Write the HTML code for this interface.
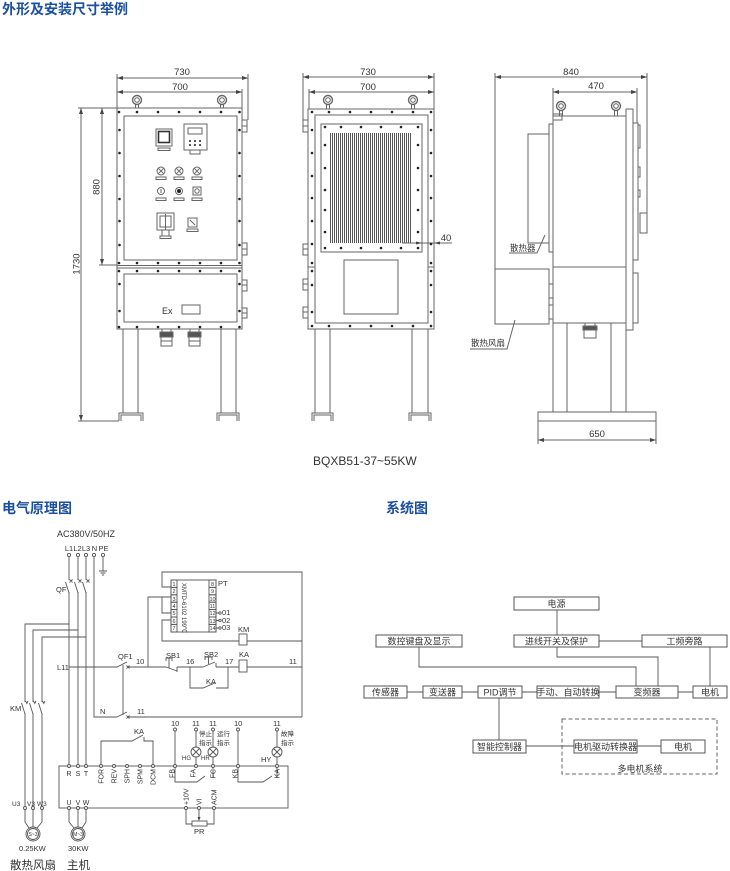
<!DOCTYPE html>
<html><head><meta charset="utf-8">
<style>
html,body{margin:0;padding:0;background:#fff;}
svg{display:block;}
text{font-family:"Liberation Sans","Noto Sans CJK SC",sans-serif;fill:#333;}
.t{fill:#1d4f9f;font-weight:bold;font-size:14px;}
.l{stroke:#666;fill:none;stroke-width:1;}
.c{stroke:#555;fill:none;stroke-width:0.9;}
.d{fill:#222;}
.w{fill:#fff;stroke:#555;stroke-width:0.9;}
.b{fill:#fff;stroke:#555;stroke-width:1;}
</style></head><body>
<svg width="730" height="871" viewBox="0 0 730 871" xmlns="http://www.w3.org/2000/svg">
<defs>
<marker id="a" markerWidth="6" markerHeight="4" refX="6" refY="2" orient="auto-start-reverse" markerUnits="userSpaceOnUse"><path d="M0,0 L6,2 L0,4z" fill="#444"/></marker>
<pattern id="fin" width="2" height="4" patternUnits="userSpaceOnUse"><rect x="0" y="0" width="1" height="4" fill="#555"/></pattern>
</defs>

<text class="t" x="2" y="14">外形及安装尺寸举例</text>

<!-- ============ LEFT FRONT VIEW ============ -->
<g class="l">
<line x1="117" y1="74" x2="117" y2="108"/>
<line x1="248" y1="74" x2="248" y2="120"/>
<line x1="242" y1="89" x2="242" y2="108"/>
<line x1="78" y1="108" x2="117" y2="108"/>
<line x1="99" y1="265" x2="117" y2="265"/>
<line x1="78" y1="421" x2="119" y2="421"/>
</g>
<line class="l" x1="117" y1="78" x2="248" y2="78" marker-start="url(#a)" marker-end="url(#a)"/>
<line class="l" x1="117" y1="92" x2="242" y2="92" marker-start="url(#a)" marker-end="url(#a)"/>
<line class="l" x1="81" y1="108" x2="81" y2="421" marker-start="url(#a)" marker-end="url(#a)"/>
<line class="l" x1="102" y1="108" x2="102" y2="265" marker-start="url(#a)" marker-end="url(#a)"/>
<text x="182" y="75" font-size="9.5" text-anchor="middle">730</text>
<text x="180" y="90" font-size="9.5" text-anchor="middle">700</text>
<text transform="translate(99.5,187) rotate(-90)" font-size="9.5" text-anchor="middle">880</text>
<text transform="translate(79.5,264) rotate(-90)" font-size="9.5" text-anchor="middle">1730</text>

<g class="l">
<circle cx="137" cy="100" r="4.5" stroke-width="1.4"/><circle cx="137" cy="100" r="2.3"/><rect x="135.5" y="104.5" width="3" height="3.5"/>
<circle cx="222" cy="100" r="4.5" stroke-width="1.4"/><circle cx="222" cy="100" r="2.3"/><rect x="220.5" y="104.5" width="3" height="3.5"/>
<rect x="117" y="108" width="125" height="221"/>
<rect x="124" y="116" width="113" height="144"/>
<line x1="117" y1="265.5" x2="242" y2="265.5"/>
<line x1="117" y1="268" x2="242" y2="268"/>
<rect x="124" y="274" width="113" height="48"/>
<rect x="242" y="120" width="5" height="12"/><line x1="242" y1="126" x2="247" y2="126"/>
<rect x="242" y="243" width="5" height="12"/><line x1="242" y1="249" x2="247" y2="249"/>
<rect x="242" y="280" width="5" height="11"/><line x1="242" y1="285" x2="247" y2="285"/>
<rect x="242" y="308" width="5" height="10"/><line x1="242" y1="313" x2="247" y2="313"/>
<!-- legs -->
<line x1="123" y1="329" x2="123" y2="413"/><line x1="138" y1="329" x2="138" y2="413"/>
<path d="M119,421 V413 H143 V421 M121,421 V415 H141 V421"/>
<line x1="221" y1="329" x2="221" y2="413"/><line x1="236" y1="329" x2="236" y2="413"/>
<path d="M217,421 V413 H239 V421 M219,421 V415 H237 V421"/>
<!-- glands -->
<rect x="162" y="329" width="9" height="3"/><rect x="160" y="332" width="13" height="5" fill="#555"/><rect x="161" y="337" width="11" height="9"/><line x1="161" y1="341" x2="172" y2="341"/>
<rect x="190" y="329" width="9" height="3"/><rect x="188" y="332" width="13" height="5" fill="#555"/><rect x="189" y="337" width="11" height="9"/><line x1="189" y1="341" x2="200" y2="341"/>
<!-- components -->
<rect x="156" y="129" width="16" height="17"/><rect x="158.5" y="131.5" width="11" height="11" stroke-width="1.6" stroke="#333"/>
<rect x="158" y="148" width="12" height="2.5"/>
<rect x="184" y="124" width="23" height="26"/><rect x="188" y="128" width="14" height="6"/>
<rect x="190" y="150" width="10" height="4"/>
<circle cx="161" cy="171" r="4"/><path d="M158.2,168.2 L163.8,173.8 M163.8,168.2 L158.2,173.8"/><rect x="156" y="177" width="10" height="2.5"/>
<circle cx="179" cy="171" r="4"/><path d="M176.2,168.2 L181.8,173.8 M181.8,168.2 L176.2,173.8"/><rect x="174" y="177" width="10" height="2.5"/>
<circle cx="197" cy="171" r="4"/><path d="M194.2,168.2 L199.8,173.8 M199.8,168.2 L194.2,173.8"/><rect x="192" y="177" width="10" height="2.5"/>
<circle cx="161" cy="191" r="3.5"/><line x1="161" y1="189" x2="161" y2="193"/><rect x="156" y="198" width="10" height="2.5"/>
<circle cx="179" cy="191" r="3.5"/><rect x="174" y="198" width="10" height="2.5"/>
<rect x="193" y="187" width="8" height="8"/><circle cx="197" cy="191" r="2.2"/><rect x="192" y="198" width="10" height="2.5"/>
<rect x="157" y="213" width="17" height="17"/><rect x="160" y="216" width="11" height="11"/><line x1="165.5" y1="214" x2="165.5" y2="230"/>
<rect x="162" y="230" width="7" height="6"/><rect x="160" y="236" width="11" height="2.5"/>
<rect x="188" y="218" width="9" height="9"/><line x1="190" y1="220" x2="195" y2="225"/><rect x="187" y="229" width="11" height="2.5"/>
<rect x="182" y="305" width="18" height="9"/>
</g>
<circle cx="179" cy="191" r="2" class="d"/>
<g class="d">
<circle cx="190" cy="141" r="1"/><circle cx="195" cy="141" r="1"/><circle cx="200" cy="141" r="1"/>
<circle cx="190" cy="145" r="1"/><circle cx="195" cy="145" r="1"/><circle cx="200" cy="145" r="1"/>
</g>
<text x="162" y="314" font-size="9">Ex</text>
<g class="d">
<circle cx="119" cy="112" r="1.3"/><circle cx="137" cy="112" r="1.3"/><circle cx="158" cy="112" r="1.3"/><circle cx="179" cy="112" r="1.3"/><circle cx="200" cy="112" r="1.3"/><circle cx="221" cy="112" r="1.3"/><circle cx="239.5" cy="112" r="1.3"/>
<circle cx="119" cy="263" r="1.3"/><circle cx="137" cy="263" r="1.3"/><circle cx="158" cy="263" r="1.3"/><circle cx="179" cy="263" r="1.3"/><circle cx="200" cy="263" r="1.3"/><circle cx="221" cy="263" r="1.3"/><circle cx="239.5" cy="263" r="1.3"/>
<circle cx="119" cy="271" r="1.3"/><circle cx="137" cy="271" r="1.3"/><circle cx="158" cy="271" r="1.3"/><circle cx="179" cy="271" r="1.3"/><circle cx="200" cy="271" r="1.3"/><circle cx="221" cy="271" r="1.3"/><circle cx="239.5" cy="271" r="1.3"/>
<circle cx="119" cy="327" r="1.3"/><circle cx="137" cy="327" r="1.3"/><circle cx="158" cy="327" r="1.3"/><circle cx="179" cy="327" r="1.3"/><circle cx="200" cy="327" r="1.3"/><circle cx="221" cy="327" r="1.3"/><circle cx="239.5" cy="327" r="1.3"/>
<circle cx="119.5" cy="130" r="1.3"/><circle cx="119.5" cy="153" r="1.3"/><circle cx="119.5" cy="176" r="1.3"/><circle cx="119.5" cy="199" r="1.3"/><circle cx="119.5" cy="221" r="1.3"/><circle cx="119.5" cy="245" r="1.3"/><circle cx="119.5" cy="284" r="1.3"/><circle cx="119.5" cy="311" r="1.3"/>
<circle cx="239.5" cy="130" r="1.3"/><circle cx="239.5" cy="153" r="1.3"/><circle cx="239.5" cy="176" r="1.3"/><circle cx="239.5" cy="199" r="1.3"/><circle cx="239.5" cy="221" r="1.3"/><circle cx="239.5" cy="245" r="1.3"/><circle cx="239.5" cy="284" r="1.3"/><circle cx="239.5" cy="311" r="1.3"/>
</g>

<!-- ============ MIDDLE VIEW ============ -->
<g class="l">
<line x1="303" y1="73" x2="303" y2="120"/>
<line x1="434" y1="73" x2="434" y2="109"/>
<line x1="309" y1="89" x2="309" y2="109"/>
</g>
<line class="l" x1="303" y1="77" x2="434" y2="77" marker-start="url(#a)" marker-end="url(#a)"/>
<line class="l" x1="309" y1="92" x2="434" y2="92" marker-start="url(#a)" marker-end="url(#a)"/>
<text x="368" y="75" font-size="9.5" text-anchor="middle">730</text>
<text x="368" y="90" font-size="9.5" text-anchor="middle">700</text>
<rect x="330" y="133" width="82" height="110" fill="url(#fin)"/>
<g class="l">
<circle cx="328" cy="100" r="4.5" stroke-width="1.4"/><circle cx="328" cy="100" r="2.3"/><rect x="326.5" y="104.5" width="3" height="4.5"/>
<circle cx="413" cy="100" r="4.5" stroke-width="1.4"/><circle cx="413" cy="100" r="2.3"/><rect x="411.5" y="104.5" width="3" height="4.5"/>
<rect x="308" y="109" width="126" height="220"/>
<rect x="315" y="115" width="113" height="208"/>
<line x1="308" y1="267" x2="315" y2="267"/><line x1="428" y1="267" x2="434" y2="267"/>
<rect x="321" y="124" width="101" height="128"/>
<rect x="344" y="260" width="54" height="54"/>
<rect x="303" y="120" width="5" height="12"/><line x1="303" y1="126" x2="308" y2="126"/>
<rect x="303" y="244" width="5" height="11"/><line x1="303" y1="249" x2="308" y2="249"/>
<rect x="303" y="279" width="5" height="11"/><line x1="303" y1="284" x2="308" y2="284"/>
<rect x="303" y="307" width="5" height="11"/><line x1="303" y1="312" x2="308" y2="312"/>
<line x1="402" y1="243" x2="452" y2="243"/>
<line x1="315" y1="329" x2="315" y2="413"/><line x1="330" y1="329" x2="330" y2="413"/>
<path d="M312,421 V413 H333 V421 M314,421 V415 H331 V421"/>
<line x1="412" y1="329" x2="412" y2="413"/><line x1="428" y1="329" x2="428" y2="413"/>
<path d="M409,421 V413 H431 V421 M411,421 V415 H429 V421"/>
</g>
<path d="M422,243 L416,241.5 L416,244.5z M434,243 L440,241.5 L440,244.5z" fill="#444"/>
<text x="446" y="241" font-size="9.5" text-anchor="middle">40</text>
<g class="d">
<circle cx="312" cy="112" r="1.3"/><circle cx="329" cy="112" r="1.3"/><circle cx="350" cy="112" r="1.3"/><circle cx="371" cy="112" r="1.3"/><circle cx="392" cy="112" r="1.3"/><circle cx="413" cy="112" r="1.3"/><circle cx="431" cy="112" r="1.3"/>
<circle cx="312" cy="326" r="1.3"/><circle cx="329" cy="326" r="1.3"/><circle cx="350" cy="326" r="1.3"/><circle cx="371" cy="326" r="1.3"/><circle cx="392" cy="326" r="1.3"/><circle cx="413" cy="326" r="1.3"/><circle cx="431" cy="326" r="1.3"/>
<circle cx="312" cy="130" r="1.3"/><circle cx="312" cy="153" r="1.3"/><circle cx="312" cy="176" r="1.3"/><circle cx="312" cy="198" r="1.3"/><circle cx="312" cy="221" r="1.3"/><circle cx="312" cy="244" r="1.3"/><circle cx="312" cy="263" r="1.3"/><circle cx="312" cy="271" r="1.3"/><circle cx="312" cy="285" r="1.3"/><circle cx="312" cy="312" r="1.3"/>
<circle cx="431" cy="130" r="1.3"/><circle cx="431" cy="153" r="1.3"/><circle cx="431" cy="176" r="1.3"/><circle cx="431" cy="198" r="1.3"/><circle cx="431" cy="221" r="1.3"/><circle cx="431" cy="244" r="1.3"/><circle cx="431" cy="263" r="1.3"/><circle cx="431" cy="271" r="1.3"/><circle cx="431" cy="285" r="1.3"/><circle cx="431" cy="312" r="1.3"/>
<circle cx="325" cy="127" r="1.3"/><circle cx="341" cy="127" r="1.3"/><circle cx="361" cy="127" r="1.3"/><circle cx="381" cy="127" r="1.3"/><circle cx="401" cy="127" r="1.3"/><circle cx="418" cy="127" r="1.3"/>
<circle cx="325" cy="248" r="1.3"/><circle cx="341" cy="248" r="1.3"/><circle cx="361" cy="248" r="1.3"/><circle cx="381" cy="248" r="1.3"/><circle cx="401" cy="248" r="1.3"/><circle cx="418" cy="248" r="1.3"/>
<circle cx="325" cy="145" r="1.3"/><circle cx="325" cy="168" r="1.3"/><circle cx="325" cy="190" r="1.3"/><circle cx="325" cy="210" r="1.3"/><circle cx="325" cy="232" r="1.3"/>
<circle cx="418" cy="145" r="1.3"/><circle cx="418" cy="168" r="1.3"/><circle cx="418" cy="190" r="1.3"/><circle cx="418" cy="210" r="1.3"/><circle cx="418" cy="232" r="1.3"/>
</g>

<!-- ============ RIGHT SIDE VIEW ============ -->
<g class="l">
<line x1="495" y1="73" x2="495" y2="269"/>
<line x1="647" y1="73" x2="647" y2="213"/>
<line x1="553" y1="88" x2="553" y2="115"/>
<line x1="637" y1="88" x2="637" y2="123"/>
<line x1="538" y1="421" x2="538" y2="444"/>
<line x1="656" y1="421" x2="656" y2="444"/>
</g>
<line class="l" x1="495" y1="77" x2="647" y2="77" marker-start="url(#a)" marker-end="url(#a)"/>
<line class="l" x1="553" y1="92" x2="637" y2="92" marker-start="url(#a)" marker-end="url(#a)"/>
<line class="l" x1="538" y1="440" x2="656" y2="440" marker-start="url(#a)" marker-end="url(#a)"/>
<text x="571" y="75" font-size="9.5" text-anchor="middle">840</text>
<text x="596" y="89" font-size="9.5" text-anchor="middle">470</text>
<text x="597" y="437" font-size="9.5" text-anchor="middle">650</text>
<g class="l">
<circle cx="561" cy="106" r="4.5" stroke-width="1.4"/><circle cx="561" cy="106" r="2.3"/><rect x="559.5" y="110.5" width="3" height="5.5"/>
<circle cx="616" cy="106" r="4.5" stroke-width="1.4"/><circle cx="616" cy="106" r="2.3"/><rect x="614.5" y="110.5" width="3" height="5.5"/>
<rect x="553" y="116" width="73" height="207"/>
<line x1="553" y1="267" x2="626" y2="267"/>
<rect x="553" y="114" width="9" height="6"/>
<rect x="549" y="124" width="4" height="128"/>
<rect x="528" y="134" width="21" height="109"/>
<rect x="495" y="269" width="54" height="55"/>
<rect x="549" y="284" width="4" height="14"/><rect x="549" y="305" width="4" height="14"/>
<rect x="626" y="109" width="7" height="221"/>
<rect x="633" y="123" width="5" height="137"/>
<rect x="633" y="273" width="5" height="50"/>
<rect x="638" y="125" width="2" height="23"/>
<rect x="638" y="167" width="2" height="10"/>
<rect x="638" y="190" width="2" height="7"/>
<rect x="640" y="213" width="7" height="20"/>
<rect x="585" y="323" width="10" height="3"/><rect x="583" y="326" width="14" height="4" fill="#555"/><rect x="584" y="330" width="12" height="8"/>
<line x1="553" y1="323" x2="553" y2="412"/><line x1="567" y1="323" x2="567" y2="412"/>
<line x1="611" y1="323" x2="611" y2="412"/><line x1="626" y1="330" x2="626" y2="412"/>
<rect x="538" y="412" width="118" height="9"/>
<path d="M509,253 H537 L545,235"/>
<path d="M470,349 H507 L515,320"/>
</g>
<text x="510" y="251" font-size="8.5">散热器</text>
<text x="471" y="346" font-size="8.5">散热风扇</text>

<text x="313" y="465" font-size="12" fill="#222">BQXB51-37~55KW</text>

<!-- ============ SECTION TITLES ============ -->
<text class="t" x="2" y="513">电气原理图</text>
<text class="t" x="386" y="513">系统图</text>

<!-- ============ CIRCUIT ============ -->
<text x="57" y="537" font-size="9">AC380V/50HZ</text>
<g font-size="7.5" text-anchor="middle">
<text x="69" y="551">L1</text><text x="77.5" y="551">L2</text><text x="86" y="551">L3</text><text x="94.5" y="551">N</text><text x="103.5" y="551">PE</text>
</g>
<g class="c">
<!-- mains -->
<path d="M69,557 V580 M69,592 V766"/>
<path d="M78,557 V580 M78,592 V766"/>
<path d="M86,557 V580 M86,592 V766"/>
<path d="M94,557 V717 H117"/>
<path d="M103,557 V571 M99,571 H107 M100.5,573 H105.5 M102,575 H104"/>
<!-- QF -->
<path d="M69,593 L65.5,582 M78,593 L74.5,582 M86,593 L82.5,582"/>
<path d="M69.5,579.5 L72.5,582.5 M72.5,579.5 L69.5,582.5 M78.5,579.5 L81.5,582.5 M81.5,579.5 L78.5,582.5 M86.5,579.5 L89.5,582.5 M89.5,579.5 L86.5,582.5"/>
<!-- fan branch -->
<path d="M69,624 H25 V702 M25,713 V806"/>
<path d="M78,630 H33 V702 M33,713 V806"/>
<path d="M86,637 H42 V702 M42,713 V806"/>
<path d="M25,714 L21.5,703 M33,714 L29.5,703 M42,714 L38.5,703"/>
<path d="M25.5,701 L26.8,703.5 L28,701 M33.5,701 L34.8,703.5 L36,701 M42.5,701 L43.8,703.5 L45,701"/>
<!-- L11 / QF1 -->
<path d="M69,667 H117 L127,662 M128,667 H166"/>
<path d="M126.5,665.5 L129.5,668.5 M129.5,665.5 L126.5,668.5"/>
<path d="M117,717 L127,712 M128,717 H302"/>
<path d="M126.5,715.5 L129.5,718.5 M129.5,715.5 L126.5,718.5"/>
<line x1="123" y1="665" x2="123" y2="715"/>
<!-- PT wiring -->
<path d="M148,667 V597 H171"/>
<path d="M162,597 V613 H171"/>
<path d="M171,587 H162 V572 H302 V717"/>
<path d="M171,620 H162 V641 H239 M247,641 H302"/>
<rect x="239" y="634" width="8" height="11"/>
<!-- SB1 SB2 KA -->
<path d="M166,667 L177,671 M177,667 V672 M177,667 H203"/>
<path d="M166,661 V658 H172 V661 M169,658 V668"/>
<path d="M203,667 L215,662 M216,663 V667 M216,667 H239"/>
<path d="M205,660 V657 H212 V660 M208.5,657 V664"/>
<path d="M190,667 V688 H203 L215,683 M216,688 H228 V667"/>
<path d="M247,667 H302"/>
<rect x="239" y="660" width="8" height="12"/>
<!-- KA contact FOR-DCM -->
<path d="M101,766 V741 H132 L143,735 M144,737 V741 H153 V766"/>
<!-- signal lines -->
<path d="M175,731 V766 M196,731 V747 M196,757 V766 M213,731 V747 M213,757 V766 M238,731 V766 M277,731 V747 M277,757 V766"/>
<!-- inner contacts -->
<path d="M175,766 V782 H197 L205,776 M213,766 V778"/>
<path d="M238,766 V782 H263 L272,776 M277,766 V778"/>
<!-- VFD box -->
<rect x="59" y="766" width="229" height="42"/>
<!-- bottom analog -->
<path d="M186,808 V824 H192 M214,808 V824 H207 M199,808 V818"/>
<rect x="192" y="821" width="15" height="5"/>
<!-- motors -->
<path d="M69,810 V822 L74,828 M78,810 V827 M86,810 V822 L82,828"/>
<path d="M25,810 V822 L29,828 M33,810 V827 M42,810 V822 L37,828"/>
<circle cx="78" cy="834" r="7"/><circle cx="78" cy="834" r="5.5"/>
<circle cx="33" cy="834" r="7"/><circle cx="33" cy="834" r="5.5"/>
<!-- lamps -->
<circle cx="196" cy="752" r="5"/><path d="M192.5,748.5 L199.5,755.5 M199.5,748.5 L192.5,755.5"/>
<circle cx="213" cy="752" r="5"/><path d="M209.5,748.5 L216.5,755.5 M216.5,748.5 L209.5,755.5"/>
<circle cx="277" cy="752" r="5"/><path d="M273.5,748.5 L280.5,755.5 M280.5,748.5 L273.5,755.5"/>
</g>
<path d="M199,821 L197.5,817 L200.5,817z" fill="#444"/>
<!-- PT module -->
<g class="c">
<rect x="171" y="580" width="45" height="52"/>
<rect x="171" y="580" width="6" height="7.4"/><rect x="171" y="587.4" width="6" height="7.4"/><rect x="171" y="594.8" width="6" height="7.4"/><rect x="171" y="602.2" width="6" height="7.4"/><rect x="171" y="609.6" width="6" height="7.4"/><rect x="171" y="617" width="6" height="7.4"/><rect x="171" y="624.4" width="6" height="7.6"/>
<rect x="209" y="580" width="7" height="7.4"/><rect x="209" y="587.4" width="7" height="7.4"/><rect x="209" y="594.8" width="7" height="7.4"/><rect x="209" y="602.2" width="7" height="7.4"/><rect x="209" y="609.6" width="7" height="7.4"/><rect x="209" y="617" width="7" height="7.4"/><rect x="209" y="624.4" width="7" height="7.6"/>
<path d="M216,613 H219 M216,620.5 H219 M216,628 H219"/>
</g>
<g class="w"><circle cx="220" cy="613" r="1.2"/><circle cx="220" cy="620.5" r="1.2"/><circle cx="220" cy="628" r="1.2"/></g>
<g font-size="5.5" text-anchor="middle">
<text x="174" y="586">1</text><text x="174" y="593">2</text><text x="174" y="601">3</text><text x="174" y="608">4</text><text x="174" y="615">5</text><text x="174" y="623">6</text><text x="174" y="630">7</text>
<text x="212.5" y="586">8</text><text x="212.5" y="593">9</text><text x="212.5" y="601">10</text><text x="212.5" y="608">11</text><text x="212.5" y="615">12</text><text x="212.5" y="623">13</text><text x="212.5" y="630">14</text>
</g>
<text transform="translate(182,583) rotate(90)" font-size="6">XMTD-6102 199℃</text>
<g font-size="7.5">
<text x="218" y="586">PT</text>
<text x="222" y="615">01</text><text x="222" y="623">02</text><text x="222" y="630">03</text>
<text x="238" y="632">KM</text>
<text x="56" y="592">QF</text>
<text x="10" y="711">KM</text>
<text x="57" y="670">L11</text>
<text x="118" y="659">QF1</text>
<text x="136" y="664">10</text>
<text x="100" y="714">N</text>
<text x="137" y="714">11</text>
<text x="166" y="658">SB1</text>
<text x="186" y="664">16</text>
<text x="204" y="657">SB2</text>
<text x="225" y="664">17</text>
<text x="239" y="657">KA</text>
<text x="289" y="664">11</text>
<text x="206" y="684">KA</text>
<text x="134" y="734">KA</text>
<text x="171" y="726">10</text><text x="192" y="726">11</text><text x="209" y="726">11</text><text x="234" y="726">10</text><text x="273" y="726">11</text>
<text x="261" y="762">HY</text>
<text x="194" y="834">PR</text>
</g>
<g font-size="6">
<text x="182" y="760">HG</text><text x="201" y="760">HR</text>
</g>
<g font-size="6.5">
<text x="199" y="736">停止</text><text x="199" y="745">指示</text>
<text x="217" y="736">运行</text><text x="217" y="745">指示</text>
<text x="281" y="736">故障</text><text x="281" y="745">指示</text>
</g>
<g class="w">
<circle cx="69" cy="555" r="1.6"/><circle cx="78" cy="555" r="1.6"/><circle cx="86" cy="555" r="1.6"/><circle cx="94" cy="555" r="1.6"/><circle cx="103" cy="555" r="1.6"/>
<circle cx="69" cy="766" r="1.5"/><circle cx="78" cy="766" r="1.5"/><circle cx="86" cy="766" r="1.5"/><circle cx="101" cy="766" r="1.5"/><circle cx="114" cy="766" r="1.5"/><circle cx="127" cy="766" r="1.5"/><circle cx="140" cy="766" r="1.5"/><circle cx="153" cy="766" r="1.5"/>
<circle cx="175" cy="766" r="1.5"/><circle cx="196" cy="766" r="1.5"/><circle cx="213" cy="766" r="1.5"/><circle cx="238" cy="766" r="1.5"/><circle cx="277" cy="766" r="1.5"/>
<circle cx="69" cy="808" r="1.5"/><circle cx="78" cy="808" r="1.5"/><circle cx="86" cy="808" r="1.5"/>
<circle cx="186" cy="808" r="1.5"/><circle cx="199" cy="808" r="1.5"/><circle cx="214" cy="808" r="1.5"/>
<circle cx="25" cy="808" r="1.5"/><circle cx="33" cy="808" r="1.5"/><circle cx="42" cy="808" r="1.5"/>
<circle cx="175" cy="729.5" r="1.5"/><circle cx="196" cy="729.5" r="1.5"/><circle cx="213" cy="729.5" r="1.5"/><circle cx="238" cy="729.5" r="1.5"/><circle cx="277" cy="729.5" r="1.5"/>
</g>
<g font-size="7" text-anchor="middle">
<text x="69" y="776">R</text><text x="78" y="776">S</text><text x="86" y="776">T</text>
<text x="69" y="805">U</text><text x="78" y="805">V</text><text x="86" y="805">W</text>
</g>
<g font-size="6.5">
<text x="12" y="806">U3</text><text x="27" y="806">V3</text><text x="37" y="806">W3</text>
</g>
<g font-size="7" text-anchor="end">
<text transform="translate(103.5,769) rotate(-90)">FOR</text>
<text transform="translate(116.5,769) rotate(-90)">REV</text>
<text transform="translate(129.5,769) rotate(-90)">SPH</text>
<text transform="translate(142.5,769) rotate(-90)">SPM</text>
<text transform="translate(155.5,769) rotate(-90)">DCM</text>
<text transform="translate(174.5,769) rotate(-90)">FB</text>
<text transform="translate(195.5,769) rotate(-90)">FA</text>
<text transform="translate(215.5,769) rotate(-90)">FC</text>
<text transform="translate(237.5,769) rotate(-90)">KB</text>
<text transform="translate(279.5,769) rotate(-90)">KA</text>
</g>
<g font-size="7">
<text transform="translate(188.5,805) rotate(-90)">+10V</text>
<text transform="translate(201.5,805) rotate(-90)">VI</text>
<text transform="translate(216.5,805) rotate(-90)">ACM</text>
</g>
<g font-size="5" text-anchor="middle">
<text x="78" y="836">M~3</text><text x="33" y="836">S~3</text>
</g>
<g font-size="7.5">
<text x="19" y="851">0.25KW</text><text x="68" y="851">30KW</text>
</g>
<g font-size="11.5">
<text x="10" y="869">散热风扇</text><text x="67" y="869">主机</text>
</g>

<!-- ============ SYSTEM DIAGRAM ============ -->
<g class="c" stroke="#666">
<path d="M557,610 V635 M599,641 H642"/>
<path d="M419,647 V667 H636 V686"/>
<path d="M557,647 V657 H658 V686"/>
<path d="M710,647 V686"/>
<path d="M407,692 H423 M462,692 H478 M522,692 H537 M599,692 H616 M678,692 H693"/>
<path d="M499,698 V740 M526,746 H574 M637,746 H661"/>
</g>
<rect x="562" y="719" width="155" height="55" fill="none" stroke="#666" stroke-width="1" stroke-dasharray="4,2.5"/>
<g class="b">
<rect x="514" y="597" width="85" height="13"/>
<rect x="376" y="635" width="86" height="12"/>
<rect x="514" y="635" width="85" height="12"/>
<rect x="642" y="635" width="85" height="12"/>
<rect x="364" y="686" width="43" height="12"/>
<rect x="423" y="686" width="39" height="12"/>
<rect x="478" y="686" width="44" height="12"/>
<rect x="537" y="686" width="62" height="12"/>
<rect x="616" y="686" width="62" height="12"/>
<rect x="693" y="686" width="34" height="12"/>
<rect x="473" y="740" width="53" height="13"/>
<rect x="574" y="740" width="63" height="13"/>
<rect x="661" y="740" width="44" height="13"/>
</g>
<g font-size="9" text-anchor="middle">
<text x="556.5" y="607">电源</text>
<text x="419" y="644.5">数控键盘及显示</text>
<text x="556.5" y="644.5">进线开关及保护</text>
<text x="684.5" y="644.5">工频旁路</text>
<text x="385.5" y="695.5">传感器</text>
<text x="442.5" y="695.5">变送器</text>
<text x="500" y="695.5">PID调节</text>
<text x="568" y="695.5">手动、自动转换</text>
<text x="647" y="695.5">变频器</text>
<text x="710" y="695.5">电机</text>
<text x="499.5" y="750">智能控制器</text>
<text x="605.5" y="750">电机驱动转换器</text>
<text x="683" y="750">电机</text>
<text x="640" y="772">多电机系统</text>
</g>
</svg>
</body></html>
